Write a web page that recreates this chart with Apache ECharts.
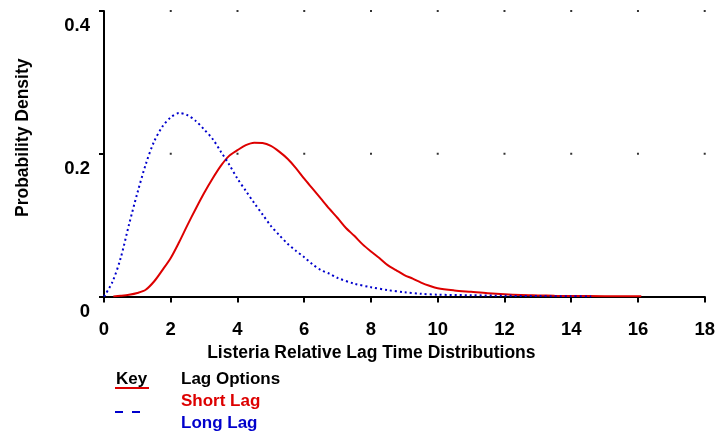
<!DOCTYPE html>
<html>
<head>
<meta charset="utf-8">
<script src="https://cdn.jsdelivr.net/npm/echarts@6/dist/echarts.min.js"></script>
<style>html,body{margin:0;padding:0;background:#fff;}#c{width:718px;height:437px;}</style>
</head>
<body>
<div id="c"></div>
<script>
// Short Lag (red, solid)
const shortLagX = [0.28,0.5,0.75,1.0,1.25,1.5,1.75,2.0,2.25,2.5,2.75,3.0,3.25,3.5,3.75,4.0,4.25,4.5,4.75,5.0,5.25,5.5,5.75,6.0,6.25,6.5,6.75,7.0,7.25,7.5,7.75,8.0,8.25,8.5,8.75,9.0,9.25,9.5,9.75,10.0,10.5,11.0,11.5,12.0,12.5,13.0,13.5,14.0,15.0,16.1];
const shortLagY = [0,0.001,0.0025,0.005,0.0095,0.021,0.037,0.054,0.076,0.100,0.123,0.145,0.165,0.183,0.197,0.205,0.212,0.2155,0.215,0.211,0.203,0.193,0.180,0.165,0.151,0.137,0.123,0.110,0.096,0.085,0.073,0.063,0.054,0.044,0.037,0.030,0.025,0.0195,0.015,0.0115,0.0085,0.0065,0.0045,0.003,0.002,0.0015,0.001,0.0007,0.0004,0.0002];
// Long Lag (blue, dashed)
const longLagX = [0,0.25,0.5,0.75,1.0,1.25,1.5,1.75,2.0,2.25,2.5,2.75,3.0,3.25,3.5,3.75,4.0,4.25,4.5,4.75,5.0,5.25,5.5,5.75,6.0,6.25,6.5,6.75,7.0,7.5,8.0,8.5,9.0,9.5,10.0,11.0,12.0,13.0,14.0,14.6];
const longLagY = [0,0.02,0.054,0.101,0.145,0.185,0.217,0.238,0.251,0.257,0.254,0.246,0.234,0.221,0.203,0.185,0.165,0.148,0.131,0.115,0.099,0.086,0.074,0.064,0.055,0.045,0.037,0.032,0.026,0.018,0.013,0.009,0.006,0.0038,0.0025,0.0018,0.001,0.0006,0.0003,0.0001];
// grid dots
const gridDotX = [2,4,6,8,10,12,14,16,18];
const gridDotY = [0.2,0.4];
const xTicks = {min:0,max:18,interval:2};
const yTicks = {min:0,max:0.4,interval:0.2};

const FONT = 'Liberation Sans';
const RED = '#dd0000', BLUE = '#0000cc';

const zip = (xs, ys) => xs.map((x,i)=>[x, ys[i]]);
const dots = [];
gridDotY.forEach(y => gridDotX.forEach(x => dots.push([x,y])));

const chart = echarts.init(document.getElementById('c'), null, {renderer:'canvas'});
chart.setOption({
  animation:false,
  backgroundColor:'#fff',
  grid:{left:104,right:13,top:11,bottom:140.5,containLabel:false},
  xAxis:{
    type:'value', min:xTicks.min, max:xTicks.max, interval:xTicks.interval,
    name:'Listeria Relative Lag Time Distributions', nameLocation:'middle', nameGap:47,
    nameTextStyle:{fontFamily:FONT,fontWeight:'bold',fontSize:17.5,color:'#000',padding:[0,66,0,0]},
    axisLine:{show:true,lineStyle:{color:'#000',width:2}},
    axisTick:{show:true,inside:false,length:6,lineStyle:{color:'#000',width:2}},
    axisLabel:{margin:24,fontFamily:FONT,fontWeight:'bold',fontSize:18.5,color:'#000'},
    splitLine:{show:false}
  },
  yAxis:{
    type:'value', min:yTicks.min, max:yTicks.max, interval:yTicks.interval,
    name:'Probability Density', nameLocation:'middle', nameGap:72,
    nameTextStyle:{fontFamily:FONT,fontWeight:'bold',fontSize:17.5,color:'#000',padding:[0,0,0,32]},
    axisLine:{show:true,lineStyle:{color:'#000',width:2}},
    axisTick:{show:true,inside:false,length:5,lineStyle:{color:'#000',width:2}},
    axisLabel:{margin:14,fontFamily:FONT,fontWeight:'bold',fontSize:18.5,color:'#000',verticalAlign:'top',lineHeight:30},
    splitLine:{show:false}
  },
  series:[
    {type:'scatter',data:dots,symbol:'rect',symbolSize:2,itemStyle:{color:'#000'},silent:true,z:1},
    {type:'line',name:'Long Lag',data:zip(longLagX,longLagY),showSymbol:false,smooth:0.3,
     lineStyle:{color:BLUE,width:2,type:[2,3]},z:3},
    {type:'line',name:'Short Lag',data:zip(shortLagX,shortLagY),showSymbol:false,smooth:0.3,
     lineStyle:{color:RED,width:2},z:2}
  ],
  graphic:[
    {type:'text',left:116,top:371,style:{text:'Key',font:'bold 17px "Liberation Sans"',fill:'#000'}},
    {type:'line',shape:{x1:115,y1:388,x2:149,y2:388},style:{stroke:RED,lineWidth:2}},
    {type:'line',shape:{x1:115,y1:412,x2:141,y2:412},style:{stroke:BLUE,lineWidth:2,lineDash:[8,9]}},
    {type:'text',left:181,top:371,style:{text:'Lag Options',font:'bold 17px "Liberation Sans"',fill:'#000'}},
    {type:'text',left:181,top:393,style:{text:'Short Lag',font:'bold 17px "Liberation Sans"',fill:RED}},
    {type:'text',left:181,top:415,style:{text:'Long Lag',font:'bold 17px "Liberation Sans"',fill:BLUE}}
  ]
});
</script>
</body>
</html>
